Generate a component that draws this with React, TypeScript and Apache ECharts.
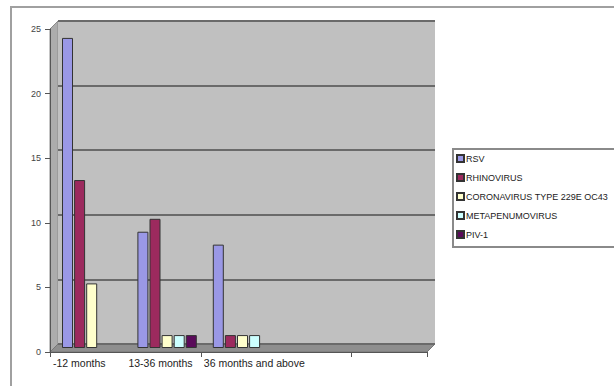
import React, { useEffect, useRef } from "react";
import * as echarts from "echarts";

const categories = ["-12 months", "13-36 months", "36 months and above", "", ""];
const axisLabels = ["-12 months", "13-36 months", "36 months and above", "", "", ""];
const seriesNames = ["RSV", "RHINOVIRUS", "CORONAVIRUS TYPE 229E OC43", "METAPENUMOVIRUS", "PIV-1"];
const rsv = [24, 9, 8];
const rhinovirus = [13, 10, 1];
const coronavirus = [5, 1, 1];
const metapenumovirus = [0, 1, 1];
const piv1 = [0, 1, 0];
const yTicks = [0, 5, 10, 15, 20, 25];

const FONT = "'Liberation Sans', Arial, sans-serif";
const colors = ["#9a98e6", "#9c2a5e", "#ffffcc", "#ccffff", "#5a0a5a"];

export default function App() {
  const ref = useRef<HTMLDivElement>(null);
  useEffect(() => {
    if (!ref.current) return;
    document.body.style.margin = "0";
    const chart = echarts.init(ref.current, undefined, { renderer: "svg" });
    const values = [rsv, rhinovirus, coronavirus, metapenumovirus, piv1];
    const yMax = yTicks[yTicks.length - 1];
    chart.setOption({
      animation: false,
      backgroundColor: "#ffffff",
      grid: [
        // back wall
        { left: 58, right: 179, top: 21, bottom: 42, show: true, backgroundColor: "#c0c0c0", borderWidth: 0 },
        // bars (middle depth)
        { left: 54, right: 183, top: 25, bottom: 38 },
        // front axes
        { left: 50, right: 187, top: 29, bottom: 34 },
      ],
      xAxis: [
        { gridIndex: 0, type: "category", data: categories, show: false },
        { gridIndex: 1, type: "category", data: categories, show: false },
        {
          gridIndex: 2, type: "category", data: categories, position: "bottom",
          axisLine: { lineStyle: { color: "#555", width: 1 } },
          axisTick: { show: true, length: 5, lineStyle: { color: "#555" } },
          axisLabel: { show: false },
        },
        {
          gridIndex: 2, type: "category", data: axisLabels, boundaryGap: false, position: "bottom",
          axisLine: { show: false }, axisTick: { show: false },
          axisLabel: {
            interval: 0, align: "left", margin: 5, fontSize: 10.5, fontFamily: FONT,
            color: "#222", padding: [0, 0, 0, 3],
          },
        },
      ],
      yAxis: [
        {
          gridIndex: 0, type: "value", min: 0, max: yMax, interval: 5,
          axisLine: { show: false }, axisTick: { show: false }, axisLabel: { show: false },
          splitLine: { show: true, lineStyle: { color: "#6a6a6a", width: 2 } },
        },
        { gridIndex: 1, type: "value", min: 0, max: yMax, interval: 5, show: false, splitLine: { show: false } },
        {
          gridIndex: 2, type: "value", min: 0, max: yMax, interval: 5,
          axisLine: { show: true, lineStyle: { color: "#555", width: 1 } },
          axisTick: { show: true, length: 5, lineStyle: { color: "#555" } },
          axisLabel: { margin: 9, fontSize: 9, fontFamily: FONT, color: "#444" },
          splitLine: { show: false },
        },
      ],
      legend: {
        orient: "vertical", left: 456, top: 153, itemWidth: 7, itemHeight: 7, itemGap: 8,
        icon: "rect", padding: 0,
        textStyle: { fontSize: 9, fontFamily: FONT, color: "#222", lineHeight: 11, padding: [0, 0, 0, -3] },
        data: seriesNames,
      },
      graphic: [
        { type: "rect", z: -10, shape: { x: 11, y: 7, width: 700, height: 500 }, style: { fill: "none", stroke: "#a0a0a0", lineWidth: 2 } },
        { type: "polygon", z: -5, shape: { points: [[50, 29], [58, 21], [58, 344], [50, 352]] }, style: { fill: "#acacac", stroke: "#8a8a8a", lineWidth: 1 } },
        { type: "polygon", z: -5, shape: { points: [[50, 352], [427, 352], [435, 344], [58, 344]] }, style: { fill: "#8e8e8e", stroke: "#777", lineWidth: 1 } },
        { type: "rect", z: -5, shape: { x: 453, y: 149, width: 200, height: 98 }, style: { fill: "#ffffff", stroke: "#8a8a8a", lineWidth: 2 } },
      ],
      series: values.map((v, i) => ({
        name: seriesNames[i],
        type: "bar",
        xAxisIndex: 1,
        yAxisIndex: 1,
        data: v.map((x) => (x === 0 ? { value: x, itemStyle: { borderWidth: 0 } } : x)),
        barWidth: 11,
        barGap: "10%",
        itemStyle: { color: colors[i], borderColor: "#333", borderWidth: 1 },
      })),
    });
    return () => chart.dispose();
  }, []);
  return <div ref={ref} style={{ width: 614, height: 386 }} />;
}
